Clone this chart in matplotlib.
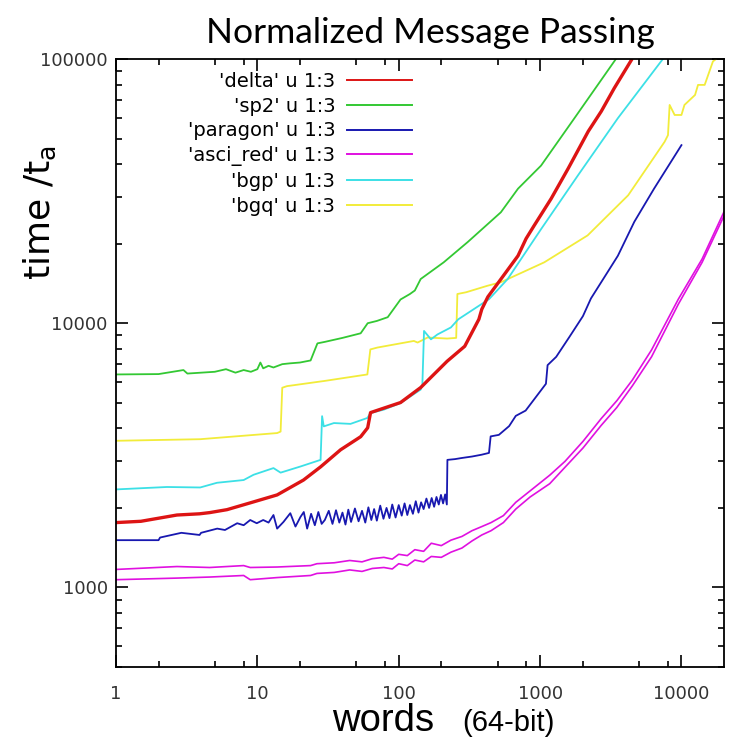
import matplotlib
matplotlib.use("Agg")
import matplotlib.pyplot as plt
from matplotlib.lines import Line2D
from matplotlib.ticker import FixedLocator, LogLocator, FuncFormatter, NullFormatter

# ---- message sizes (64-bit words) and normalized times ----
delta_x = [1, 1.5, 2.7, 3.9, 4.6, 6.1, 8.9, 13.8, 21.2, 28, 38.8, 53.8, 60.3, 63.2,
           103, 143, 220, 293, 369, 387, 427, 529, 698, 796, 907, 1197, 1580,
           2190, 2710, 3350, 4420]
delta_t = [1760, 1780, 1880, 1900, 1920, 1970, 2090, 2240, 2550, 2860, 3320, 3720, 4020, 4590,
           5010, 5710, 7180, 8180, 10350, 11300, 12580, 14700, 18000, 20900, 23400, 29600, 38500,
           53200, 63400, 77600, 99000]

sp2_x = [1, 2, 3, 3.2, 4, 5, 6, 7, 8, 9, 10, 10.5, 11, 12, 13, 15, 17, 20, 23.8, 26.6,
         30, 40, 53.8, 60.3, 70, 83.6, 103, 120, 130, 143, 208, 308, 528, 698, 1016,
         1742, 3460]
sp2_t = [6400, 6420, 6650, 6450, 6500, 6550, 6700, 6500, 6650, 6550, 6700, 7100, 6750, 6900,
         6800, 7000, 7050, 7100, 7230, 8390, 8500, 8800, 9160, 10000, 10200, 10540, 12300,
         12900, 13300, 14700, 17000, 20300, 26300, 32300, 39500, 59500, 100500]

paragon_x = [1, 2, 2.05, 2.9, 3.9, 4.0, 5.2, 5.9, 7.2, 8.0, 8.9, 9.9, 11, 12, 13, 13.8,
             15.3, 17.1, 18.6, 20.2, 21.3, 22.5, 24, 25.5, 27, 28.5, 30, 32, 34, 36, 38,
             40, 42, 44, 46, 49, 52, 55, 58, 61, 64, 67, 70, 74, 78, 82, 86, 90, 95, 100,
             105, 110, 115, 120, 126, 132, 138, 144, 150, 157, 164, 171, 178, 185, 192,
             199, 206, 213, 219, 221, 250, 279, 330, 386, 435, 447, 511, 604, 673, 790,
             930, 1100, 1130, 1300, 1620, 2010, 2290, 3000, 3550, 4640, 6400, 10000]
paragon_t = [1510, 1510, 1545, 1610, 1580, 1610, 1670, 1650, 1750, 1720, 1800, 1750, 1800,
             1760, 1880, 1670, 1770, 1910, 1700, 1850, 1930, 1670, 1900, 1720, 1930, 1740,
             1800, 1950, 1740, 1960, 1760, 1920, 1730, 1970, 1770, 1990, 1780, 1950, 1760,
             2010, 1800, 1980, 1790, 2040, 1820, 2000, 1830, 2060, 1840, 2050, 1870, 2080,
             1880, 2050, 1900, 2120, 1920, 2100, 1980, 2170, 2000, 2180, 2020, 2200, 2060,
             2240, 2080, 2250, 2060, 3040, 3060, 3090, 3130, 3180, 3230, 3730, 3780, 4080,
             4460, 4670, 5240, 5900, 6940, 7460, 8910, 10640, 12410, 15600, 18000, 24200,
             32300, 47200]

asci_x = [1, 2.7, 4.6, 8, 8.9, 13.8, 23.8, 26.4, 35, 45, 55, 65, 78.5, 90, 100, 115, 130,
          150, 170, 200, 234, 280, 330, 387, 450, 550, 673, 850, 1170, 1500, 2010, 2700,
          3490, 4500, 6150, 9500, 14000, 20000]
asci_t_upper = [1170, 1200, 1190, 1210, 1190, 1195, 1210, 1230, 1240, 1265, 1250, 1285,
                1300, 1280, 1335, 1320, 1390, 1370, 1470, 1440, 1510, 1560, 1640, 1700,
                1760, 1870, 2100, 2320, 2660, 3000, 3570, 4350, 5090, 6100, 7930, 12330,
                17500, 26400]
asci_t_lower = [1070, 1085, 1095, 1110, 1070, 1090, 1110, 1130, 1140, 1165, 1150, 1180,
                1190, 1175, 1230, 1210, 1270, 1250, 1310, 1300, 1360, 1410, 1500, 1580,
                1640, 1760, 1980, 2200, 2470, 2850, 3370, 4100, 4800, 5800, 7470, 11800,
                17000, 25500]

bgp_x = [1, 2.29, 3.94, 5.18, 8.0, 9.4, 13.0, 14.6, 20.2, 28.0, 28.7, 29.5, 34.8, 45.6,
         60, 63, 78.5, 103, 143, 147, 151, 169, 188, 234, 264, 435, 590, 1016, 1855,
         3550, 7390]
bgp_t = [2350, 2400, 2390, 2490, 2550, 2670, 2830, 2720, 2870, 3040, 4450, 4070, 4190,
         4160, 4380, 4570, 4710, 4990, 5610, 5860, 9350, 8690, 9070, 9640, 10350, 12330,
         14700, 22700, 36300, 59700, 100000]

bgq_x = [1, 3.94, 13.8, 14.6, 15.0, 16.2, 30, 60, 63, 70.6, 128, 136, 160, 220, 255,
         260, 300, 424, 529, 1070, 2170, 4200, 7600, 8030, 8250, 8950, 10000, 10500,
         12480, 13100, 14600, 16700, 18000]
bgq_t = [3590, 3640, 3840, 3890, 5700, 5780, 6050, 6400, 7960, 8090, 8570, 8450, 8830,
         8750, 8800, 12900, 13100, 13860, 14300, 17000, 21500, 30500, 48600, 51500,
         67000, 61400, 61400, 67000, 73100, 79800, 79800, 97900, 101000]

legend_labels = ["'delta' u 1:3", "'sp2' u 1:3", "'paragon' u 1:3",
                 "'asci_red' u 1:3", "'bgp' u 1:3", "'bgq' u 1:3"]
colors = ["#dd1414", "#33c833", "#1818b0", "#e010e0", "#3ce0e6", "#f2ec3a"]

x_ticks = [1, 10, 100, 1000, 10000]
y_ticks = [1000, 10000, 100000]

# ---- figure ----
fig = plt.figure(figsize=(7.30, 7.41), dpi=100)
ax = fig.add_axes([116 / 730, 74 / 741, 608 / 730, 608 / 741])

ax.plot(sp2_x, sp2_t, color=colors[1], lw=1.3)
ax.plot(bgq_x, bgq_t, color=colors[5], lw=1.3)
ax.plot(bgp_x, bgp_t, color=colors[4], lw=1.3)
ax.plot(paragon_x, paragon_t, color=colors[2], lw=1.3)
ax.plot(asci_x, asci_t_upper, color=colors[3], lw=1.2)
ax.plot(asci_x, asci_t_lower, color=colors[3], lw=1.2)
ax.plot(delta_x, delta_t, color=colors[0], lw=2.4)

ax.set_xscale("log")
ax.set_yscale("log")
ax.set_xlim(1, 20000)
ax.set_ylim(500, 100000)

ax.xaxis.set_major_locator(FixedLocator(x_ticks))
ax.xaxis.set_minor_locator(FixedLocator([m * 10 ** k for k in range(5) for m in (2, 5, 8)
                                         if m * 10 ** k < 20000]))
ax.yaxis.set_major_locator(FixedLocator(y_ticks))
ax.yaxis.set_minor_locator(LogLocator(base=10, subs=range(2, 10)))
fmt = FuncFormatter(lambda v, p: f"{int(round(v))}")
ax.xaxis.set_major_formatter(fmt)
ax.yaxis.set_major_formatter(fmt)
ax.xaxis.set_minor_formatter(NullFormatter())
ax.yaxis.set_minor_formatter(NullFormatter())

ax.tick_params(which="both", direction="in", top=True, right=True, width=1.2,
               labelsize=13, labelcolor="#333333")
ax.tick_params(which="major", length=8.5)
ax.tick_params(which="minor", length=4.5)
ax.tick_params(axis="x", pad=13)
ax.tick_params(axis="y", pad=6)
for s in ax.spines.values():
    s.set_linewidth(1.3)

handles = [Line2D([], [], color=c, lw=1.4) for c in colors]
ax.legend(handles, legend_labels, loc="upper right", bbox_to_anchor=(0.487, 0.979),
          frameon=False, markerfirst=False, fontsize=14, handlelength=3.35,
          handletextpad=0.6, labelspacing=0.3, borderpad=0, borderaxespad=0)

fig.text(430 / 730, 1 - 43 / 741, "Normalized Message Passing", ha="center",
         va="baseline", fontsize=25.5, family="Lato")
fig.text(40 / 730, 1 - 213 / 741, r"time /t$_{\mathregular{a}}$", rotation=90,
         ha="center", va="center", fontsize=26, family="DejaVu Sans")
fig.text(332 / 730, 10 / 741, "words", ha="left", va="baseline", fontsize=27.5,
         family="Liberation Sans")
fig.text(462 / 730, 10 / 741, "(64-bit)", ha="left", va="baseline", fontsize=21,
         family="Liberation Sans")

fig.savefig("out.png", dpi=100, facecolor="white")
